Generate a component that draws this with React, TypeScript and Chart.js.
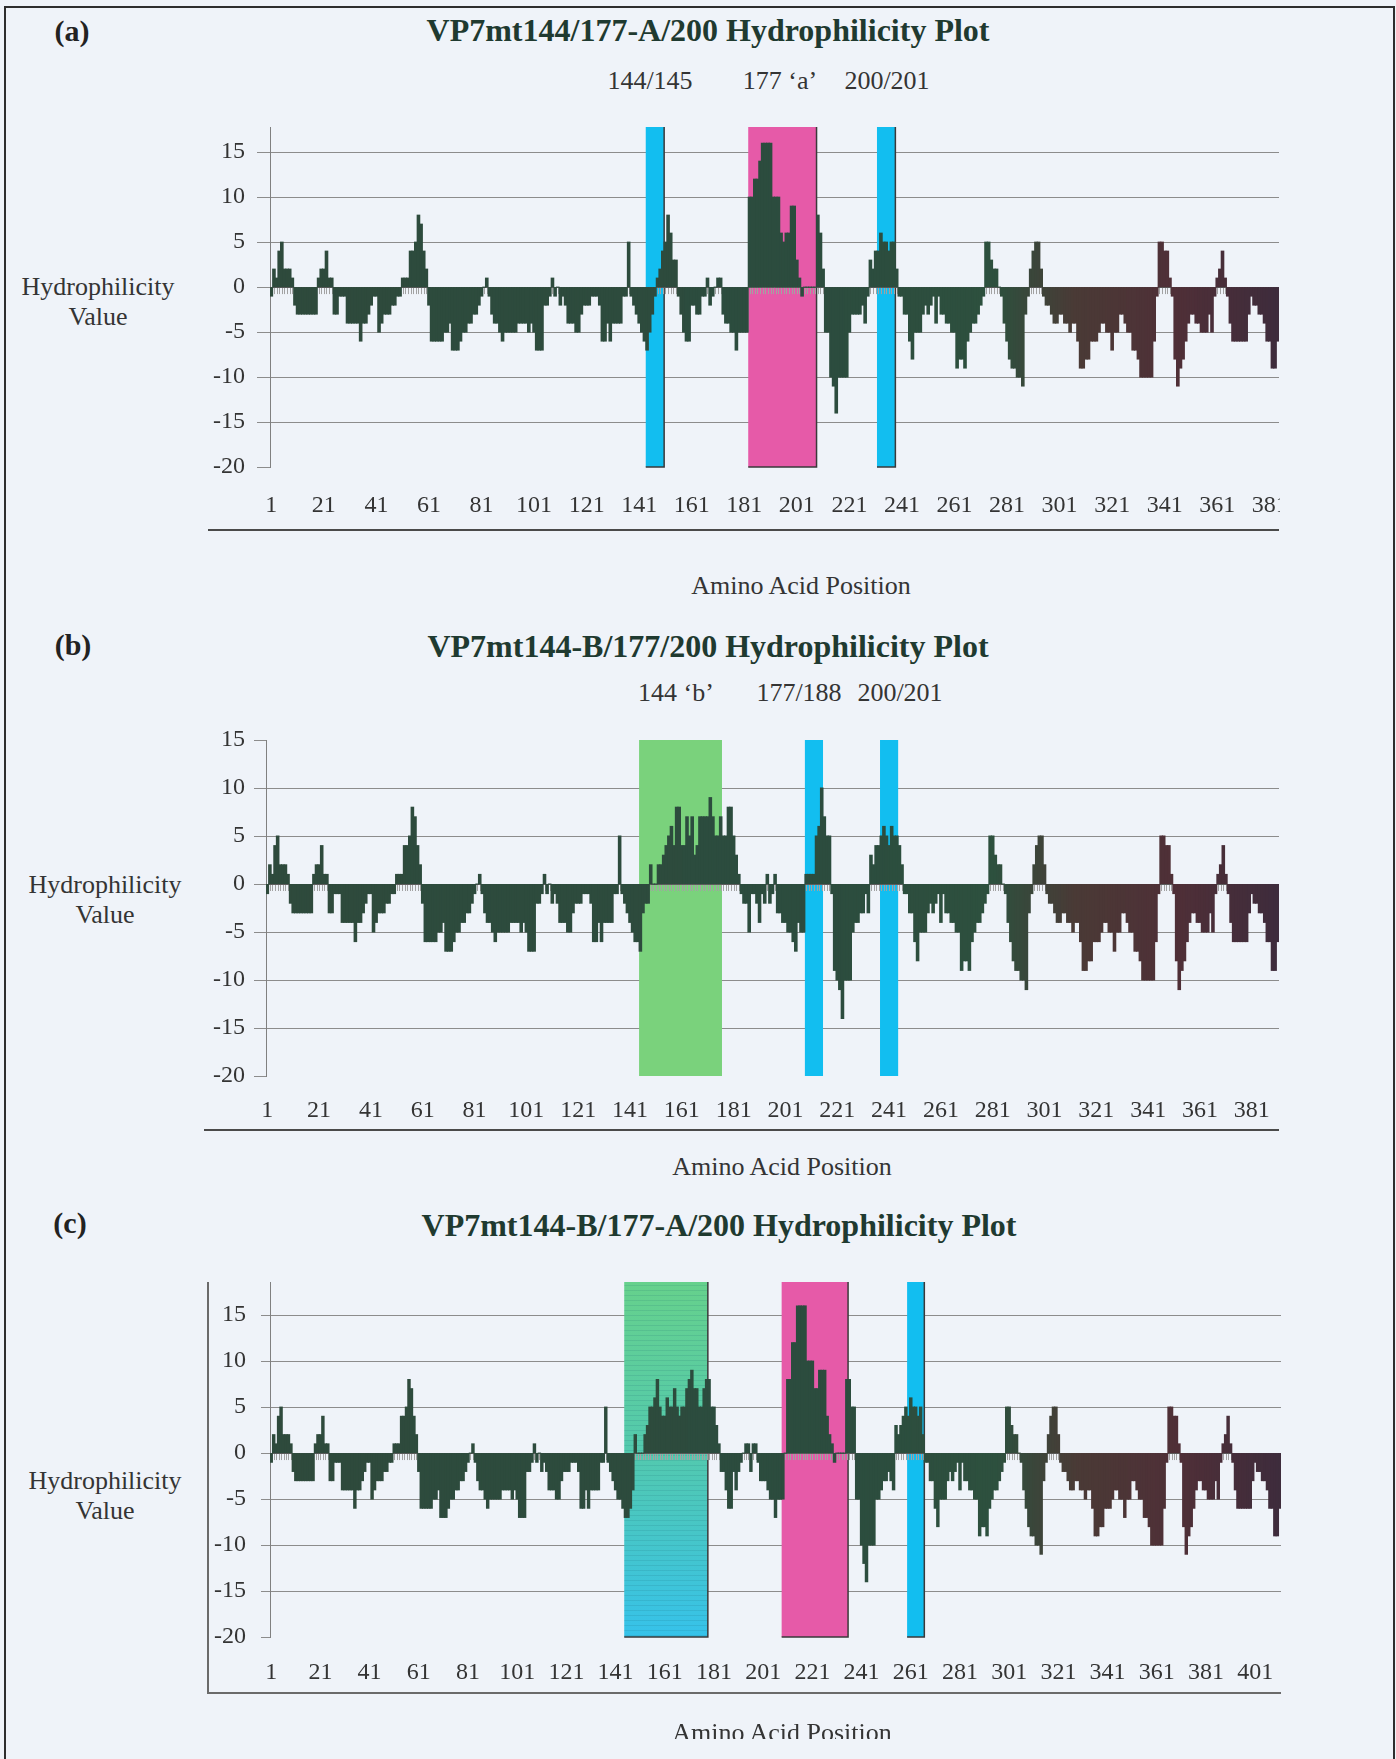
import React, { useEffect, useRef } from "react";
import { Chart, registerables } from "chart.js";

Chart.register(...registerables);

const SERIF = '"Liberation Serif", "Times New Roman", Times, serif';
const PAGE_BG = "#eff3f9";
const TEXT = "#343434";
const TITLE = "#1f3a30";

// Hydrophilicity values per residue. The three constructs share the
// N-terminal stretch (head) and the C-terminal stretch (tail); only the
// region around the insertion sites differs.
const head = [
  -1, 2, 1, 4, 5, 2, 2, 2, 1, -2,
  -3, -3, -3, -3, -3, -3, -3, -3, 1, 2,
  2, 4, 1, 1, -3, -3, -1, -1, -1, -4,
  -4, -4, -4, -4, -6, -4, -4, -3, -2, -1,
  -1, -5, -4, -3, -3, -3, -2, -2, -1, -1,
  1, 1, 1, 4, 4, 5, 8, 7, 4, 2,
  -2, -6, -6, -6, -6, -6, -5, -5, -4, -7,
  -7, -7, -6, -5, -5, -4, -4, -3, -3, -2,
  -1, 0, 1, -1, -3, -4, -4, -5, -6, -5,
  -5, -5, -5, -5, -4, -4, -4, -4, -5, -4,
  -5, -7, -7, -7, -2, -2, -1, 1, -1, 0,
  -2, -1, -2, -4, -4, -4, -5, -5, -3, -2,
  -2, -2, -1, -1, -1, -2, -6, -6, -4, -6,
  -4, -4, -4, -4, -1, -1, 5, -1, -2, -3,
  -4, -5,
];

// VP7mt144/177-A/200 : residues 143-238
const midA = [
  -6, -7, -5, -3, -1, 1, 2, 4, 5, 8,
  6, 3, 3, -1, -3, -5, -6, -6, -2, -2,
  -3, -3, -1, -1, 1, -2, -1, 0, 1, 1,
  -3, -4, -4, -5, -5, -7, -5, -5, -5, -5,
  10, 10, 12, 12, 14, 16, 16, 16, 16, 10,
  10, 10, 6, 5, 6, 6, 9, 9, 3, 1,
  -1, 0, 0, 0, 0, 0, 8, 6, 2, -5,
  -5, -10, -11, -14, -10, -10, -10, -10, -5, -3,
  -3, -3, -3, -2, -4, -1, 3, 2, 4, 4,
  6, 5, 5, 4, 5, 5,
];

// VP7mt144-B/177/200 : residues 143-245
const midB = [
  -6, -6, -7, -3, -2, -2, 2, 0, 0, 2,
  2, 3, 4, 5, 6, 4, 8, 8, 4, 4,
  7, 5, 7, 3, 4, 7, 7, 7, 7, 9,
  7, 5, 5, 7, 5, 5, 8, 8, 5, 3,
  1, -1, -2, -2, -5, -1, -1, -2, -4, -1,
  -2, 1, -2, -1, 1, -3, -3, -4, -4, -5,
  -5, -6, -7, -4, -5, -5, 1, 1, 1, 1,
  5, 6, 10, 7, 5, 5, -1, -9, -10, -11,
  -14, -10, -10, -10, -5, -4, -4, -3, -3, -1,
  -3, 3, 2, 4, 4, 5, 6, 5, 4, 6,
  5, 5, 4,
];

// VP7mt144-B/177-A/200 : residues 143-265
const midC = [
  -5, -6, -7, -7, -6, -4, 2, 0, 0, 0,
  2, 3, 5, 5, 6, 8, 5, 4, 4, 6,
  5, 5, 7, 5, 4, 5, 5, 7, 8, 9,
  7, 7, 5, 5, 7, 8, 8, 5, 5, 3,
  1, -2, -2, -4, -6, -6, -2, -4, -2, -1,
  0, 1, 1, -2, 1, 1, -1, -3, -3, -3,
  -4, -5, -5, -7, -5, -5, -5, 0, 8, 8,
  12, 12, 16, 16, 16, 16, 10, 10, 10, 7,
  7, 9, 9, 9, 4, 2, 1, -1, 0, 0,
  0, 0, 8, 8, 5, 5, -5, -5, -10, -12,
  -14, -10, -10, -10, -5, -5, -4, -3, -3, -2,
  -3, -4, 3, 2, 3, 4, 5, 4, 6, 5,
  5, 4, 5,
];

const tail = [
  2, -1, -1, -3, -3, -6, -8, -5, -5, -5,
  -3, -2, -3, -2, -1, -4, -1, -3, -3, -4,
  -4, -5, -5, -9, -8, -8, -9, -6, -5, -4,
  -4, -3, -2, -1, 5, 5, 3, 2, 2, 0,
  -1, -4, -6, -8, -9, -9, -10, -10, -11, -3,
  -1, 2, 4, 5, 5, 2, -1, -2, -2, -3,
  -4, -4, -3, -3, -4, -4, -5, -4, -4, -6,
  -9, -9, -8, -8, -6, -6, -6, -5, -4, -4,
  -5, -5, -7, -5, -5, -3, -3, -4, -5, -5,
  -7, -7, -8, -10, -10, -10, -10, -10, -6, -1,
  5, 5, 4, 4, 1, -1, -8, -11, -9, -8,
  -6, -4, -3, -3, -4, -4, -5, -5, -5, -3,
  -5, -1, 1, 2, 4, 1, -1, -4, -6, -6,
  -6, -6, -6, -6, -3, -1, -2, -2, -3, -3,
  -4, -6, -6, -9, -9, -6,
];

const seriesA = [...head, ...midA, ...tail];
const seriesB = [...head, ...midB, ...tail];
const seriesC = [...head, ...midC, ...tail];

// highlighted sites, as [first residue, last residue]
const sitesA = [[144, 150], [183, 208], [232, 238]];
const sitesB = [[145, 176], [209, 215], [238, 244]];
const sitesC = [[145, 178], [209, 235], [260, 266]];

const Y_MIN = -20;
const Y_STEP = 5;
const LABEL_EVERY = 20;

const BLUE = "#12bef0";
const PINK = "#e65aa8";
const GREEN = "#7ad27c";
const GREEN_TEAL = ["#66d18c", "#52c9b0", "#36c2ea"];

type Band = {
  from: number;
  to: number;
  fill: string | string[];
  edge: boolean;
  stripes?: boolean;
};

const colorStops: [number, number[]][] = [
  [0, [46, 74, 60]],
  [0.55, [44, 76, 62]],
  [0.72, [45, 80, 62]],
  [0.8, [74, 58, 54]],
  [0.9, [79, 47, 55]],
  [1, [62, 44, 60]],
];

function barColor(i: number, n: number) {
  const f = i / (n - 1);
  for (let k = 1; k < colorStops.length; k++) {
    const [f1, c1] = colorStops[k];
    const [f0, c0] = colorStops[k - 1];
    if (f <= f1) {
      const t = (f - f0) / (f1 - f0);
      const c = c0.map((v, j) => Math.round(v + (c1[j] - v) * t));
      return `rgb(${c[0]},${c[1]},${c[2]})`;
    }
  }
  return "rgb(62,44,60)";
}

const siteBands = {
  id: "siteBands",
  beforeDatasetsDraw(chart: any, _args: any, opts: any) {
    const { ctx, chartArea } = chart;
    const xs = chart.scales.x;
    const ys = chart.scales.y;
    const top = chartArea.top;
    const bottom = ys.getPixelForValue(Y_MIN);
    ctx.save();
    for (const b of (opts.bands || []) as Band[]) {
      const x1 = xs.getPixelForValue(b.from - 1.5);
      const x2 = xs.getPixelForValue(b.to - 0.5);
      if (Array.isArray(b.fill)) {
        const g = ctx.createLinearGradient(0, top, 0, bottom);
        b.fill.forEach((c, k) => g.addColorStop(k / (b.fill.length - 1), c));
        ctx.fillStyle = g;
      } else {
        ctx.fillStyle = b.fill;
      }
      ctx.fillRect(x1, top, x2 - x1, bottom - top);
      if (b.stripes) {
        ctx.strokeStyle = "rgba(20,90,110,0.13)";
        ctx.lineWidth = 1;
        ctx.beginPath();
        for (let yy = top + 3; yy < bottom; yy += 5) {
          ctx.moveTo(x1, Math.round(yy) + 0.5);
          ctx.lineTo(x2, Math.round(yy) + 0.5);
        }
        ctx.stroke();
      }
      if (b.edge) {
        ctx.strokeStyle = "#3a3a3a";
        ctx.lineWidth = 1.5;
        ctx.beginPath();
        ctx.moveTo(x2, top);
        ctx.lineTo(x2, bottom);
        ctx.lineTo(x1, bottom);
        ctx.stroke();
      }
    }
    // category axis crossing at zero, with its tick marks
    const y0 = ys.getPixelForValue(0);
    const n = chart.data.labels.length;
    ctx.strokeStyle = "#a2a2a2";
    ctx.lineWidth = 1;
    ctx.beginPath();
    for (let i = 0; i < n; i++) {
      const px = Math.round(xs.getPixelForValue(i)) + 0.5;
      ctx.moveTo(px, y0);
      ctx.lineTo(px, y0 + 7);
    }
    ctx.stroke();
    ctx.strokeStyle = "#5c5c5c";
    ctx.beginPath();
    ctx.moveTo(chartArea.left, Math.round(y0) + 0.5);
    ctx.lineTo(chartArea.right, Math.round(y0) + 0.5);
    ctx.stroke();
    ctx.restore();
  },
};

type PlotProps = {
  values: number[];
  bands: Band[];
  yMax: number;
  left: number;
  top: number;
  width: number;
  height: number;
  tickLen: number;
  tickPad: number;
  padRight: number;
  labelPad: number;
};

function Plot(p: PlotProps) {
  const ref = useRef<HTMLCanvasElement>(null);
  useEffect(() => {
    if (!ref.current) return;
    const n = p.values.length;
    const labels = p.values.map((_, i) => String(i + 1));
    const chart = new Chart(ref.current, {
      type: "bar",
      data: {
        labels,
        datasets: [
          {
            data: p.values,
            backgroundColor: p.values.map((_, i) => barColor(i, n)),
            borderWidth: 0,
            barPercentage: 1,
            categoryPercentage: 1,
            inflateAmount: 0.5,
          },
        ],
      },
      options: {
        animation: false,
        responsive: false,
        devicePixelRatio: 1,
        events: [],
        layout: { padding: { top: 20, right: p.padRight, bottom: 0, left: 0 } },
        plugins: {
          legend: { display: false },
          tooltip: { enabled: false },
          siteBands: { bands: p.bands },
        } as any,
        scales: {
          x: {
            type: "category",
            offset: true,
            grid: { display: false, drawTicks: false },
            border: { display: false },
            ticks: {
              autoSkip: false,
              maxRotation: 0,
              minRotation: 0,
              padding: p.labelPad,
              color: TEXT,
              font: { family: SERIF, size: 24 },
              callback: (_v: any, i: number) => (i % LABEL_EVERY === 0 ? labels[i] : ""),
            },
            afterFit: (s: any) => {
              s.height = 60;
              s.paddingLeft = 0;
              s.paddingRight = 0;
            },
          },
          y: {
            min: Y_MIN,
            max: p.yMax,
            ticks: {
              stepSize: Y_STEP,
              includeBounds: false,
              padding: p.tickPad,
              color: TEXT,
              font: { family: SERIF, size: 24 },
            },
            grid: {
              color: (c: any) =>
                c.tick && (c.tick.value === Y_MIN || c.tick.value === p.yMax)
                  ? "rgba(0,0,0,0)"
                  : c.tick && c.tick.value === 0
                  ? "#5c5c5c"
                  : "#8c8c8c",
              tickColor: "#8c8c8c",
              tickLength: p.tickLen,
              lineWidth: 1,
            },
            border: { display: true, color: "#808080", width: 1 },
            afterFit: (s: any) => {
              s.width = 80;
              s.paddingTop = 0;
              s.paddingBottom = 0;
            },
          },
        },
      } as any,
      plugins: [siteBands],
    });
    return () => chart.destroy();
  }, []);
  return (
    <canvas
      ref={ref}
      width={p.width}
      height={p.height}
      style={{ position: "absolute", left: p.left, top: p.top, width: p.width, height: p.height }}
    />
  );
}

function Txt(props: {
  x: number;
  y: number;
  size: number;
  bold?: boolean;
  color?: string;
  children: React.ReactNode;
}) {
  return (
    <div
      style={{
        position: "absolute",
        left: props.x,
        top: props.y,
        transform: "translate(-50%, -50%)",
        whiteSpace: "nowrap",
        fontFamily: SERIF,
        fontSize: props.size,
        fontWeight: props.bold ? 700 : 400,
        color: props.color || TEXT,
        lineHeight: 1.15,
      }}
    >
      {props.children}
    </div>
  );
}

function Line(props: { x: number; y: number; w: number; h: number; color?: string }) {
  return (
    <div
      style={{
        position: "absolute",
        left: props.x,
        top: props.y,
        width: props.w,
        height: props.h,
        background: props.color || "#4a4a4a",
      }}
    />
  );
}

function YTitle({ x, y }: { x: number; y: number }) {
  return (
    <>
      <Txt x={x} y={y} size={26}>Hydrophilicity</Txt>
      <Txt x={x} y={y + 30} size={26}>Value</Txt>
    </>
  );
}

const toBands = (sites: number[][], fills: (string | string[])[], edge: boolean, stripes: boolean[] = []) =>
  sites.map(([from, to], k) => ({ from, to, fill: fills[k], edge, stripes: !!stripes[k] }));

export default function App() {
  useEffect(() => {
    document.body.style.background = PAGE_BG;
  }, []);
  return (
    <div
      style={{
        position: "absolute",
        left: 0,
        top: 0,
        width: 1396,
        height: 1759,
        overflow: "hidden",
        background: PAGE_BG,
      }}
    >
      {/* figure frame */}
      <div
        style={{
          position: "absolute",
          left: 4,
          top: 6,
          width: 1387,
          height: 1800,
          borderLeft: "2px solid #2e2e2e",
          borderTop: "2px solid #2e2e2e",
          borderRight: "2px solid #2e2e2e",
        }}
      />

      {/* (a) */}
      <Txt x={72} y={31} size={30} bold color="#222">(a)</Txt>
      <Txt x={708} y={30} size={32} bold color={TITLE}>VP7mt144/177-A/200 Hydrophilicity Plot</Txt>
      <Txt x={650} y={81} size={26}>144/145</Txt>
      <Txt x={780} y={81} size={26}>177 ‘a’</Txt>
      <Txt x={887} y={81} size={26}>200/201</Txt>
      <YTitle x={98} y={287} />
      <Plot
        values={seriesA}
        bands={toBands(sitesA, [BLUE, PINK, BLUE], true)}
        yMax={17.8}
        left={190}
        top={107}
        width={1090}
        height={420}
        tickLen={13}
        tickPad={12}
        padRight={1}
        labelPad={24}
      />
      <Line x={208} y={529} w={1071} h={2} />
      <Txt x={801} y={586} size={26}>Amino Acid Position</Txt>

      {/* (b) */}
      <Txt x={73} y={645} size={30} bold color="#222">(b)</Txt>
      <Txt x={708} y={646} size={32} bold color={TITLE}>VP7mt144-B/177/200 Hydrophilicity Plot</Txt>
      <Txt x={676} y={693} size={26}>144 ‘b’</Txt>
      <Txt x={799} y={693} size={26}>177/188</Txt>
      <Txt x={900} y={693} size={26}>200/201</Txt>
      <YTitle x={105} y={885} />
      <Plot
        values={seriesB}
        bands={toBands(sitesB, [GREEN, BLUE, BLUE], false)}
        yMax={15}
        left={186}
        top={720}
        width={1094}
        height={416}
        tickLen={12}
        tickPad={9}
        padRight={1}
        labelPad={20}
      />
      <Line x={204} y={1129} w={1075} h={2} />
      <Txt x={782} y={1167} size={26}>Amino Acid Position</Txt>

      {/* (c) */}
      <Txt x={70} y={1223} size={30} bold color="#222">(c)</Txt>
      <Txt x={719} y={1225} size={32} bold color={TITLE}>VP7mt144-B/177-A/200 Hydrophilicity Plot</Txt>
      <YTitle x={105} y={1481} />
      <Line x={207} y={1282} w={1.5} h={411} color="#6a6a6a" />
      <Plot
        values={seriesC}
        bands={toBands(sitesC, [GREEN_TEAL, PINK, BLUE], true, [true, false, false])}
        yMax={18.6}
        left={190}
        top={1262}
        width={1093}
        height={435}
        tickLen={9}
        tickPad={15}
        padRight={2}
        labelPad={21}
      />
      <Line x={207} y={1692} w={1074} h={1.5} color="#6a6a6a" />
      <div style={{ position: "absolute", left: 0, top: 1700, width: 1396, height: 39, overflow: "hidden" }}>
        <Txt x={782} y={33} size={26}>Amino Acid Position</Txt>
      </div>
    </div>
  );
}
